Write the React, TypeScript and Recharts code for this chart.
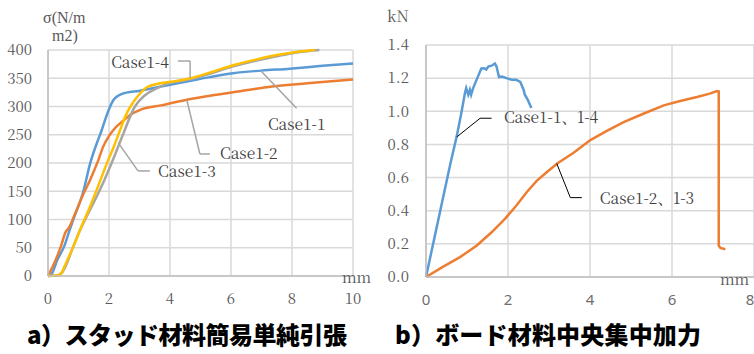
import React from "react";
import {
  LineChart,
  Line,
  XAxis,
  YAxis,
  CartesianGrid,
  ReferenceLine,
  ReferenceDot,
} from "recharts";

// ---- Left chart: stud material tension (σ vs mm) ----
const leftXTicks = [0, 2, 4, 6, 8, 10];
const leftYTicks = [0, 50, 100, 150, 200, 250, 300, 350, 400];

const case11: [number, number][] = [
  [0, 0], [0.1, 2], [0.3, 28], [0.55, 55], [0.7, 80], [0.83, 100], [1.16, 150],
  [1.38, 199], [1.6, 235], [1.76, 258], [1.87, 276], [2.0, 295], [2.14, 311],
  [2.3, 319], [2.41, 322], [3.02, 328], [3.67, 335], [4.55, 344], [5.3, 352],
  [6.07, 359], [7.0, 363.5], [7.93, 367], [9.0, 372], [10, 376],
];
const case12: [number, number][] = [
  [0, 0], [0.2, 22], [0.42, 52], [0.58, 78], [0.68, 85], [0.9, 112], [1.16, 145],
  [1.38, 170], [1.65, 205], [1.81, 229], [2.03, 250], [2.2, 262], [2.47, 275],
  [2.69, 285], [3.02, 294], [3.7, 302], [4.55, 312], [5.41, 320], [6.3, 327],
  [7.17, 334], [8.5, 341], [10, 348],
];
const case13: [number, number][] = [
  [0, 0], [0.3, 1], [0.45, 5], [0.6, 20], [0.8, 48], [1.0, 75], [1.2, 98],
  [1.5, 130], [1.85, 170], [2.2, 215], [2.47, 252], [2.85, 300], [3.18, 320],
  [3.56, 332], [3.9, 340], [4.66, 348], [5.3, 358], [6.07, 371], [6.8, 381],
  [7.5, 389], [8.2, 396], [8.9, 400],
];
const case14: [number, number][] = [
  [0, 0], [0.3, 1], [0.45, 6], [0.55, 18], [0.65, 30], [0.83, 52], [1.1, 88],
  [1.38, 123], [1.65, 160], [1.92, 198], [2.15, 228], [2.36, 258], [2.6, 290],
  [2.8, 308], [3.02, 323], [3.24, 334], [3.67, 341], [4.2, 345], [4.66, 350],
  [5.3, 360], [6.07, 373], [6.8, 383], [7.5, 391], [8.2, 397], [8.75, 400],
];

// ---- Right chart: board material central load (kN vs mm) ----
const rightXTicks = [0, 2, 4, 6, 8];
const rightYTicks = [0, 0.2, 0.4, 0.6, 0.8, 1.0, 1.2, 1.4];

const case11_14: [number, number][] = [
  [0, 0], [0.2, 0.23], [0.4, 0.46], [0.6, 0.69], [0.75, 0.85], [0.87, 1.0],
  [0.95, 1.11], [0.98, 1.14], [1.03, 1.1], [1.07, 1.13], [1.1, 1.1], [1.15, 1.14],
  [1.25, 1.2], [1.35, 1.258], [1.42, 1.26], [1.47, 1.252], [1.52, 1.27],
  [1.6, 1.275], [1.68, 1.288], [1.72, 1.27], [1.78, 1.207], [1.85, 1.21],
  [2.0, 1.197], [2.1, 1.19], [2.2, 1.19], [2.3, 1.177], [2.38, 1.13],
  [2.41, 1.1], [2.48, 1.07], [2.57, 1.02],
];
const case12_13: [number, number][] = [
  [0, 0], [0.4, 0.06], [0.83, 0.12], [1.24, 0.19], [1.6, 0.27], [1.93, 0.352],
  [2.2, 0.43], [2.46, 0.513], [2.7, 0.58], [2.95, 0.634], [3.2, 0.685],
  [3.6, 0.75], [4.0, 0.825], [4.4, 0.88], [4.82, 0.935], [5.3, 0.985],
  [5.8, 1.036], [6.2, 1.062], [6.61, 1.086], [6.9, 1.105], [7.1, 1.122],
  [7.14, 1.12], [7.14, 0.19], [7.18, 0.175], [7.3, 0.168],
];

const toRows = (pts: [number, number][]) => pts.map(([x, y]) => ({ x, y }));

const BLUE = "#5B9BD5";
const ORANGE = "#ED7D31";
const GREY = "#A5A5A5";
const YELLOW = "#FFC000";
const GRID = "#d9d9d9";
const TICK = "#595959";
const SERIF = "'Noto Serif CJK JP', 'Liberation Serif', serif";
const TIGHT_SERIF = "'Liberation Serif', serif";
const SANS = "'Noto Sans', sans-serif";
const GOTHIC = "'Noto Sans CJK JP', sans-serif";

const makeTick = (family: string, size: number, color: string, fmt?: (v: number) => string) => (p: any) => {
  const { x, y, payload, textAnchor, verticalAnchor } = p;
  const v = payload.value as number;
  const dy = verticalAnchor === "start" ? "0.71em" : "0.355em";
  return (
    <text x={x} y={y} dy={dy} textAnchor={textAnchor} fill={color} style={{ fontFamily: family, fontSize: size }}>
      {fmt ? fmt(v) : String(v)}
    </text>
  );
};

const labelShape = (text: string) => (p: any) => (
  <text x={p.cx} y={p.cy} fill="#404040" style={{ fontFamily: SERIF, fontSize: 15.5 }}>
    {text}
  </text>
);

const seg = (x1: number, y1: number, x2: number, y2: number, color: string, w: number, key: string) => (
  <ReferenceLine
    key={key}
    segment={[{ x: x1, y: y1 }, { x: x2, y: y2 }]}
    stroke={color}
    strokeWidth={w}
    ifOverflow="visible"
  />
);

export default function App() {
  return (
    <div style={{ position: "absolute", left: 0, top: 0, width: 754, height: 354, background: "#fff", overflow: "hidden" }}>
      <div style={{ position: "absolute", left: 0, top: 0 }}>
        <LineChart width={377} height={330} margin={{ top: 50, right: 24, bottom: 30, left: 0 }}>
          <CartesianGrid stroke={GRID} strokeWidth={1.5} />
          <XAxis
            type="number"
            dataKey="x"
            domain={[0, 10]}
            ticks={leftXTicks}
            height={24}
            tickSize={0}
            tickMargin={17}
            tick={makeTick(SERIF, 15, TICK)}
            stroke="#bfbfbf"
            strokeWidth={1.5}
          />
          <YAxis
            type="number"
            dataKey="y"
            domain={[0, 400]}
            ticks={leftYTicks}
            width={48}
            tickSize={0}
            tickMargin={16}
            tick={makeTick(SERIF, 15, TICK)}
            stroke="#bfbfbf"
            strokeWidth={1.5}
          />
          <Line data={toRows(case11)} dataKey="y" type="monotone" stroke={BLUE} strokeWidth={2.5} dot={false} isAnimationActive={false} />
          <Line data={toRows(case12)} dataKey="y" type="monotone" stroke={ORANGE} strokeWidth={2.5} dot={false} isAnimationActive={false} />
          <Line data={toRows(case13)} dataKey="y" type="monotone" stroke={GREY} strokeWidth={2.5} dot={false} isAnimationActive={false} />
          <Line data={toRows(case14)} dataKey="y" type="monotone" stroke={YELLOW} strokeWidth={2.5} dot={false} isAnimationActive={false} />
          {seg(4.26, 380.5, 4.66, 380.5, GREY, 1.5, "l4a")}
          {seg(4.66, 380.5, 4.66, 350.4, GREY, 1.5, "l4b")}
          {seg(8.15, 297, 7.0, 362, GREY, 1.5, "l1a")}
          {seg(5.31, 216, 4.98, 216, GREY, 1.5, "l2a")}
          {seg(4.98, 216, 4.55, 312, GREY, 1.5, "l2b")}
          {seg(3.34, 186, 2.95, 186, GREY, 1.5, "l3a")}
          {seg(2.95, 186, 2.3, 236, GREY, 1.5, "l3b")}
          <ReferenceDot x={2.07} y={368} r={0} shape={labelShape("Case1-4")} />
          <ReferenceDot x={7.21} y={258} r={0} shape={labelShape("Case1-1")} />
          <ReferenceDot x={5.64} y={207} r={0} shape={labelShape("Case1-2")} />
          <ReferenceDot x={3.61} y={175} r={0} shape={labelShape("Case1-3")} />
        </LineChart>
      </div>
      <div style={{ position: "absolute", left: 377, top: 0 }}>
        <LineChart width={377} height={330} margin={{ top: 45, right: 0, bottom: 30, left: 0 }}>
          <CartesianGrid stroke={GRID} strokeWidth={1.5} />
          <XAxis
            type="number"
            dataKey="x"
            domain={[0, 8]}
            ticks={rightXTicks}
            height={23}
            tickSize={0}
            tickMargin={17}
            tick={makeTick(SANS, 15, "#6e6e6e")}
            stroke="#bfbfbf"
            strokeWidth={1.5}
          />
          <YAxis
            type="number"
            dataKey="y"
            domain={[0, 1.4]}
            ticks={rightYTicks}
            width={49}
            tickSize={0}
            tickMargin={17}
            tick={makeTick(SERIF, 15, TICK, (v) => v.toFixed(1))}
            stroke="#bfbfbf"
            strokeWidth={1.5}
          />
          <Line data={toRows(case11_14)} dataKey="y" type="linear" stroke={BLUE} strokeWidth={2.5} dot={false} isAnimationActive={false} />
          <Line data={toRows(case12_13)} dataKey="y" type="linear" stroke={ORANGE} strokeWidth={2.5} dot={false} isAnimationActive={false} />
          {seg(1.6, 0.958, 1.32, 0.958, "#000", 1, "r1a")}
          {seg(1.32, 0.958, 0.75, 0.845, "#000", 1, "r1b")}
          {seg(3.8, 0.479, 3.52, 0.479, "#000", 1, "r2a")}
          {seg(3.52, 0.479, 3.19, 0.684, "#000", 1, "r2b")}
          <ReferenceDot x={1.9} y={0.928} r={0} shape={labelShape("Case1-1、1-4")} />
          <ReferenceDot x={4.24} y={0.439} r={0} shape={labelShape("Case1-2、1-3")} />
        </LineChart>
      </div>
      <svg width={754} height={354} style={{ position: "absolute", left: 0, top: 0, pointerEvents: "none" }}>
        <text x={43} y={23} fill={TICK} style={{ fontFamily: TIGHT_SERIF, fontSize: 16 }}>σ(N/m</text>
        <text x={52} y={41} fill={TICK} style={{ fontFamily: TIGHT_SERIF, fontSize: 16 }}>m2)</text>
        <text x={342} y={283} fill={TICK} style={{ fontFamily: SERIF, fontSize: 15 }}>mm</text>
        <text x={387} y={22} fill={TICK} style={{ fontFamily: SERIF, fontSize: 15.5 }}>kN</text>
        <text x={720} y={285} fill={TICK} style={{ fontFamily: SERIF, fontSize: 15 }}>mm</text>
        <text x={27} y={344} fill="#000" style={{ fontFamily: GOTHIC, fontWeight: 900, fontSize: 24 }} textLength={320} lengthAdjust="spacing">a）スタッド材料簡易単純引張</text>
        <text x={395} y={344} fill="#000" style={{ fontFamily: GOTHIC, fontWeight: 900, fontSize: 24 }} textLength={306} lengthAdjust="spacing">b）ボード材料中央集中加力</text>
      </svg>
    </div>
  );
}
